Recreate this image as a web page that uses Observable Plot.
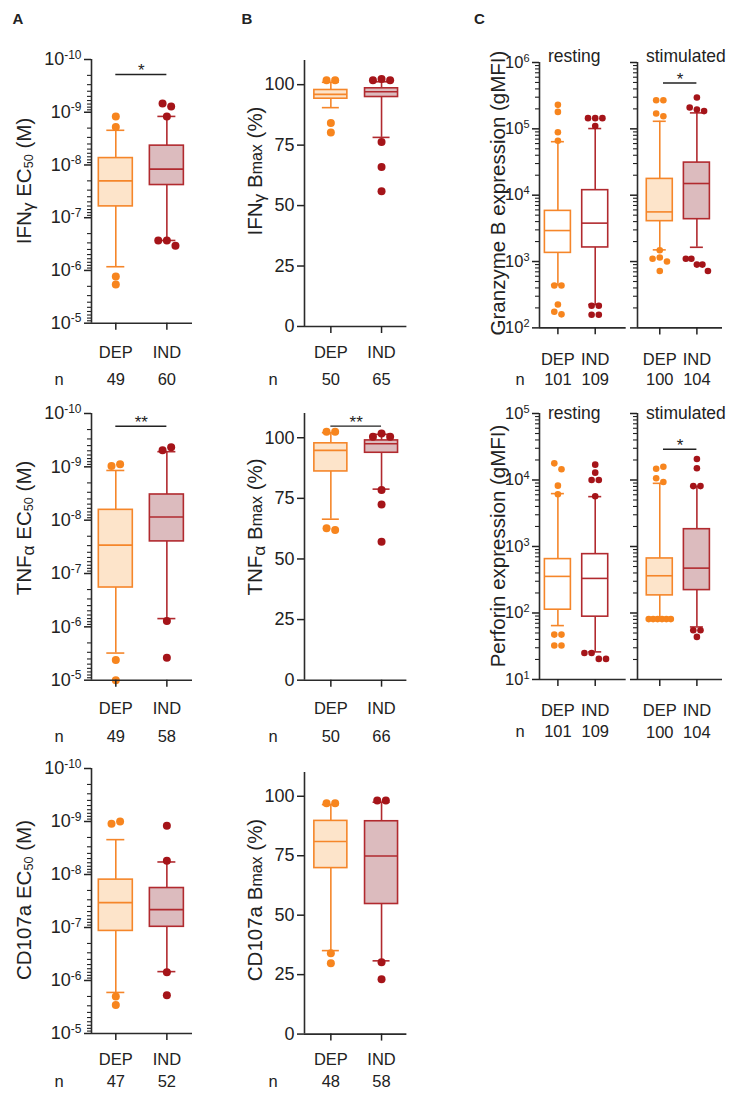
<!DOCTYPE html>
<html><head><meta charset="utf-8">
<script src="https://cdn.jsdelivr.net/npm/d3@7"></script>
<script src="https://cdn.jsdelivr.net/npm/@observablehq/plot@0.6"></script>
<style>
body{margin:0;background:#fff;}
#fig{position:relative;width:729px;height:1093px;overflow:hidden;font-family:"Liberation Sans",Arial,sans-serif;color:#222;background:#fff;}
#fig svg{position:absolute;}
.lab{position:absolute;white-space:nowrap;font-size:20.5px;line-height:1;transform:translate(-50%,-50%) rotate(-90deg);}
.lab sub{font-size:0.62em;vertical-align:-0.2em;}
.lab .gr{font-size:0.85em;position:relative;top:0.18em;}
.lab .mx{font-size:0.78em;}
.pl{position:absolute;font-weight:bold;font-size:15px;line-height:1;}
</style></head><body><div id="fig"></div>
<script>
const groups = ["DEP", "IND"];
// box statistics per group: [lower whisker, Q1, median, Q3, upper whisker]
// A: EC50 (M)
const ifngEC50Box = [[2.2e-9, 7.4e-9, 2.0e-8, 6.1e-8, 8.5e-7], [1.2e-9, 4.3e-9, 1.2e-8, 2.4e-8, 2.7e-7]];
const ifngEC50Out = [[1.2e-9, 1.9e-9, 1.3e-6, 1.85e-6], [6.8e-10, 7.8e-10, 1.2e-9, 2.7e-7, 2.7e-7, 3.4e-7]];
const ifngEC50N = [49, 60];
const tnfEC50Box = [[1.17e-9, 6.4e-9, 2.94e-8, 1.83e-7, 3.1e-6], [5.2e-10, 3.3e-9, 8.7e-9, 2.5e-8, 7.0e-7]];
const tnfEC50Out = [[9.6e-10, 8.9e-10, 4.2e-6, 1.0e-5], [4.9e-10, 4.3e-10, 7.8e-7, 3.8e-6]];
const tnfEC50N = [49, 58];
const cd107EC50Box = [[2.2e-9, 1.25e-8, 3.4e-8, 1.16e-7, 1.68e-6], [5.8e-9, 1.8e-8, 4.6e-8, 9.7e-8, 6.8e-7]];
const cd107EC50Out = [[1.1e-9, 1.0e-9, 2.0e-6, 2.9e-6], [1.2e-9, 5.5e-9, 7.0e-7, 1.9e-6]];
const cd107EC50N = [47, 52];
// B: Bmax (%)
const ifngBmaxBox = [[90.5, 94.2, 96.0, 97.8, 101.0], [78.2, 94.9, 97.1, 98.5, 101.2]];
const ifngBmaxOut = [[101.8, 101.8, 84.2, 80.2], [101.8, 102.3, 101.8, 76.3, 66.0, 55.9]];
const ifngBmaxN = [50, 65];
const tnfBmaxBox = [[66.4, 86.1, 94.8, 97.7, 102.1], [78.8, 93.8, 97.5, 98.9, 101.4]];
const tnfBmaxOut = [[102.5, 102.5, 62.7, 61.9], [100.4, 101.8, 100.4, 78.4, 72.5, 57.1]];
const tnfBmaxN = [50, 66];
const cd107BmaxBox = [[35.1, 69.8, 81.0, 89.65, 96.5], [30.8, 54.7, 74.9, 89.5, 97.5]];
const cd107BmaxOut = [[97.1, 97.1, 34.0, 29.8], [98.2, 98.2, 30.2, 23.1]];
const cd107BmaxN = [48, 58];
// C: expression (gMFI)
const gzbRestBox = [[445, 1350, 2930, 5800, 64000], [225, 1630, 3790, 11900, 101000]];
const gzbRestOut = [[230000, 180000, 89000, 66000, 435, 435, 225, 175, 160], [145000, 145000, 145000, 110000, 215, 215, 158, 158]];
const gzbRestN = [101, 109];
const gzbStimBox = [[1500, 4060, 5600, 17600, 130000], [1640, 4350, 15000, 31000, 174000]];
const gzbStimOut = [[270000, 270000, 170000, 155000, 1480, 1100, 1150, 1000, 720], [297000, 210000, 195000, 185000, 1100, 1100, 900, 900, 720]];
const gzbStimN = [100, 104];
const prfRestBox = [[64.6, 112, 355, 646, 6240], [26, 88, 331, 767, 5620]];
const prfRestOut = [[17800, 14500, 8220, 6100, 47.3, 47.3, 32.4, 32.4], [17000, 12900, 10000, 10000, 5700, 25, 25, 20.4, 20.4]];
const prfRestN = [101, 109];
const prfStimBox = [[81.3, 184, 363, 661, 8910], [61.7, 221, 473, 1820, 8030]];
const prfStimOut = [[14800, 15800, 10600, 9330, 81, 81, 81, 81, 81, 81], [20700, 15000, 8100, 8100, 55, 43.7, 55]];
const prfStimN = [100, 104];
// significance brackets: [from group, to group, bracket level (data units), label]
const ifngEC50Sig = [[0, 1, 1.92e-10, "*"]];
const tnfEC50Sig = [[0, 1, 1.73e-10, "**"]];
const tnfBmaxSig = [[0, 1, 104.8, "**"]];
const gzbStimSig = [[0.1, 1, 4.9e5, "*"]];
const prfStimSig = [[0.1, 1, 2.9e4, "*"]];

const strokeCol = ["#F5862A", "#B12A2F"];
const fillCol = ["#FDE4CA", "#DCBBBE"];
const dotCol = ["#F7851E", "#A51419"];
const fig = document.getElementById("fig");

function spread(vals, g, ys, r, maxW, ppx) {
  const order = vals.map((v, i) => i).sort((a, b) => ys(vals[a]) - ys(vals[b]));
  const cl = []; let cur = [];
  for (const i of order) {
    if (cur.length && Math.abs(ys(vals[i]) - ys(vals[cur[cur.length - 1]])) >= 2 * r) { cl.push(cur); cur = []; }
    cur.push(i);
  }
  if (cur.length) cl.push(cur);
  const res = [];
  for (const c of cl) {
    c.sort((a, b) => a - b);
    const k = c.length, step = k > 1 ? Math.min(2 * r + 0.6, maxW / (k - 1)) : 0;
    c.forEach((i, j) => res.push({g, v: vals[i], x: g + (j - (k - 1) / 2) * step / ppx}));
  }
  return res;
}

function logTicks(dom) {
  const lo = Math.min(...dom), hi = Math.max(...dom);
  const major = [], minor = [];
  for (let e = Math.round(Math.log10(lo)); e <= Math.round(Math.log10(hi)); e++) {
    major.push(Math.pow(10, e));
    for (let k = 2; k <= 9; k++) { const v = k * Math.pow(10, e); if (v < hi) minor.push(v); }
  }
  return {major, minor};
}

function panel(o) {
  const ML = o.yLabels ? 75 : 12, MR = 14, MT = 30, MB = 72;
  const fw = o.fr - o.fl, fh = o.fb - o.ft;
  const ppx = fw / (o.xDomain[1] - o.xDomain[0]);
  const ys = (o.log ? d3.scaleLog() : d3.scaleLinear()).domain(o.yDomain).range([fh, 0]);
  const rows = o.box.map((b, g) => ({g, lo: b[0], q1: b[1], med: b[2], q3: b[3], hi: b[4]}));
  const dots = o.out.flatMap((vals, g) => spread(vals, g, ys, o.r, o.boxW * 0.85, ppx));
  const hb = o.boxW / 2 / ppx, hc = o.capW / 2 / ppx;
  const sc = d => strokeCol[d.g];
  const sw = 1.6;
  const tf = o.tickFont || 18;
  let major, minor;
  if (o.log) { ({major, minor} = logTicks(o.yDomain)); } else { major = o.ticks; minor = []; }
  const fmt = o.yLabels ? (o.log ? v => "10^" + Math.round(Math.log10(v)) : v => String(v)) : () => "";
  const marks = [
    Plot.ruleX(rows, {x: "g", y1: "q3", y2: "hi", stroke: sc, strokeWidth: sw}),
    Plot.ruleX(rows, {x: "g", y1: "lo", y2: "q1", stroke: sc, strokeWidth: sw}),
    Plot.ruleY(rows, {y: "hi", x1: d => d.g - hc, x2: d => d.g + hc, stroke: sc, strokeWidth: sw}),
    Plot.ruleY(rows, {y: "lo", x1: d => d.g - hc, x2: d => d.g + hc, stroke: sc, strokeWidth: sw}),
    Plot.rect(rows, {x1: d => d.g - hb, x2: d => d.g + hb, y1: "q1", y2: "q3", fill: d => o.filled ? fillCol[d.g] : "white", stroke: sc, strokeWidth: sw}),
    Plot.ruleY(rows, {y: "med", x1: d => d.g - hb, x2: d => d.g + hb, stroke: sc, strokeWidth: sw}),
    Plot.dot(dots, {x: "x", y: "v", r: o.r, fill: d => dotCol[d.g], stroke: null}),
    Plot.ruleX([o.xDomain[0]], {stroke: "#2b2b2b", strokeWidth: 1.6}),
    Plot.ruleY([o.yDomain[0]], {stroke: "#2b2b2b", strokeWidth: 1.6}),
    Plot.axisY({ticks: major, tickFormat: fmt, tickSize: 7, tickPadding: 3, fontSize: tf, strokeWidth: 1.5, label: null}),
    Plot.axisX({ticks: [0, 1], tickFormat: i => groups[i], tickSize: 7, tickPadding: o.xPad, fontSize: 16.5, strokeWidth: 1.5, label: null}),
    Plot.text(o.n.map((v, g) => ({g, v: String(v)})), {x: "g", text: "v", frameAnchor: "bottom", dy: o.nDy, fontSize: 16.5})
  ];
  if (minor.length) marks.push(Plot.axisY({ticks: minor, tickFormat: () => "", tickSize: 4, strokeWidth: 1.1, label: null}));
  if (o.nLabel) marks.push(Plot.text(["n"], {frameAnchor: "bottom-left", dx: o.nDx, dy: o.nDy, textAnchor: "middle", fontSize: 16.5}));
  if (o.title) marks.push(Plot.text([o.title], {frameAnchor: "top-left", dx: 8.5, dy: o.titleDy, textAnchor: "start", lineAnchor: "middle", fontSize: 17.5}));
  if (o.sig) {
    const s = o.sig.map(([a, b, y, t]) => ({a, b, y, t}));
    marks.push(Plot.ruleY(s, {y: "y", x1: "a", x2: "b", stroke: "#222", strokeWidth: 1.4}));
    marks.push(Plot.text(s, {x: d => (d.a + d.b) / 2, y: "y", text: "t", dy: -4, fontSize: 17}));
  }
  const svg = Plot.plot({
    width: ML + fw + MR, height: MT + fh + MB,
    marginLeft: ML, marginRight: MR, marginTop: MT, marginBottom: MB,
    x: {type: "linear", domain: o.xDomain},
    y: {type: o.log ? "log" : "linear", domain: o.yDomain},
    color: {type: "identity"},
    style: {background: "transparent", overflow: "visible", fontFamily: "'Liberation Sans', Arial, sans-serif", color: "#222"},
    marks
  });
  svg.querySelectorAll('g[aria-label="y-axis tick label"]').forEach(g => { g.style.fontSize = tf + "px"; });
  svg.querySelectorAll('g[aria-label="x-axis tick label"]').forEach(g => { g.style.fontSize = "16.5px"; });
  svg.querySelectorAll("text").forEach(t => {
    const m = /^10\^(-?\d+)$/.exec(t.textContent);
    if (m) {
      t.textContent = "10";
      const ts = document.createElementNS("http://www.w3.org/2000/svg", "tspan");
      ts.setAttribute("dy", "-0.55em");
      ts.style.fontSize = Math.round(tf * 0.67) + "px";
      ts.textContent = m[1];
      t.appendChild(ts);
    }
  });
  svg.style.left = (o.fl - ML) + "px";
  svg.style.top = (o.ft - MT) + "px";
  fig.appendChild(svg);
}

const xA = [-0.476, 1.502], xB = [-0.52, 1.50], xCr = [-0.493, 1.83], xCs = [-0.6, 1.69];
const ecDom = [1e-5, 1e-10], bDom = [0, 110], bTicks = [0, 25, 50, 75, 100];
// Column A
panel({box: ifngEC50Box, out: ifngEC50Out, n: ifngEC50N, sig: ifngEC50Sig, log: true, yDomain: ecDom, xDomain: xA, fl: 90.7, fr: 191.7, ft: 59, fb: 322.7, boxW: 34, capW: 18, r: 4, filled: true, yLabels: true, xPad: 16.3, nDy: 62, nLabel: true, nDx: -32.4});
panel({box: tnfEC50Box, out: tnfEC50Out, n: tnfEC50N, sig: tnfEC50Sig, log: true, yDomain: ecDom, xDomain: xA, fl: 90.7, fr: 191.7, ft: 413.3, fb: 680, boxW: 34, capW: 18, r: 4, filled: true, yLabels: true, xPad: 15.3, nDy: 62, nLabel: true, nDx: -32.4});
panel({box: cd107EC50Box, out: cd107EC50Out, n: cd107EC50N, log: true, yDomain: ecDom, xDomain: xA, fl: 90.7, fr: 191.7, ft: 767.7, fb: 1032.7, boxW: 34, capW: 18, r: 4, filled: true, yLabels: true, xPad: 12.3, nDy: 53.5, nLabel: true, nDx: -32.4});
// Column B
panel({box: ifngBmaxBox, out: ifngBmaxOut, n: ifngBmaxN, log: false, ticks: bTicks, yDomain: bDom, xDomain: xB, fl: 304.3, fr: 406.7, ft: 60, fb: 326, boxW: 33, capW: 17, r: 4, filled: true, yLabels: true, xPad: 13.3, nDy: 58.5, nLabel: true, nDx: -31.3});
panel({box: tnfBmaxBox, out: tnfBmaxOut, n: tnfBmaxN, sig: tnfBmaxSig, log: false, ticks: bTicks, yDomain: bDom, xDomain: xB, fl: 304.3, fr: 406.7, ft: 413.3, fb: 680, boxW: 33, capW: 17, r: 4, filled: true, yLabels: true, xPad: 15, nDy: 62, nLabel: true, nDx: -31.3});
panel({box: cd107BmaxBox, out: cd107BmaxOut, n: cd107BmaxN, log: false, ticks: bTicks, yDomain: bDom, xDomain: xB, fl: 304.3, fr: 406.7, ft: 771.7, fb: 1033.3, boxW: 33, capW: 17, r: 4, filled: true, yLabels: true, xPad: 11.7, nDy: 53, nLabel: true, nDx: -31.3});
// Column C
panel({box: gzbRestBox, out: gzbRestOut, n: gzbRestN, log: true, yDomain: [1e2, 1e6], xDomain: xCr, fl: 539.3, fr: 626, ft: 62.3, fb: 327.7, boxW: 26, capW: 13, r: 3.3, filled: false, yLabels: true, tickFont: 16.5, xPad: 18.3, nDy: 57, nLabel: true, nDx: -19.3, title: "resting", titleDy: -6});
panel({box: gzbStimBox, out: gzbStimOut, n: gzbStimN, sig: gzbStimSig, log: true, yDomain: [1e2, 1e6], xDomain: xCs, fl: 636.7, fr: 721.7, ft: 62.3, fb: 327.7, boxW: 26, capW: 13, r: 3.3, filled: true, yLabels: false, xPad: 18.3, nDy: 57, title: "stimulated", titleDy: -6});
panel({box: prfRestBox, out: prfRestOut, n: prfRestN, log: true, yDomain: [1e1, 1e5], xDomain: xCr, fl: 539.3, fr: 626, ft: 413.3, fb: 679.3, boxW: 26, capW: 13, r: 3.3, filled: false, yLabels: true, tickFont: 16.5, xPad: 18, nDy: 58, nLabel: true, nDx: -19.3, title: "resting", titleDy: 0});
panel({box: prfStimBox, out: prfStimOut, n: prfStimN, sig: prfStimSig, log: true, yDomain: [1e1, 1e5], xDomain: xCs, fl: 636.7, fr: 721.7, ft: 413.3, fb: 679.3, boxW: 26, capW: 13, r: 3.3, filled: true, yLabels: false, xPad: 18, nDy: 58, title: "stimulated", titleDy: 0});

// axis titles and panel letters
const yTitles = [
  [25, 181, 'IFN<span class="gr">γ</span> EC<sub>50</sub> (M)'],
  [25, 528, 'TNF<span class="gr">α</span> EC<sub>50</sub> (M)'],
  [25, 900, 'CD107a EC<sub>50</sub> (M)'],
  [255, 171, 'IFN<span class="gr">γ</span> B<span class="mx">max</span> (%)'],
  [255, 527, 'TNF<span class="gr">α</span> B<span class="mx">max</span> (%)'],
  [255, 900, 'CD107a B<span class="mx">max</span> (%)'],
  [498, 193, 'Granzyme B expression (gMFI)'],
  [498, 546, 'Perforin expression (gMFI)']
];
for (const [x, y, h] of yTitles) {
  const d = document.createElement("div");
  d.className = "lab"; d.style.left = x + "px"; d.style.top = y + "px"; d.innerHTML = h;
  fig.appendChild(d);
}
for (const [x, t] of [[12.5, "A"], [241.5, "B"], [474, "C"]]) {
  const d = document.createElement("div");
  d.className = "pl"; d.style.left = x + "px"; d.style.top = "11px"; d.textContent = t;
  fig.appendChild(d);
}
</script></body></html>
